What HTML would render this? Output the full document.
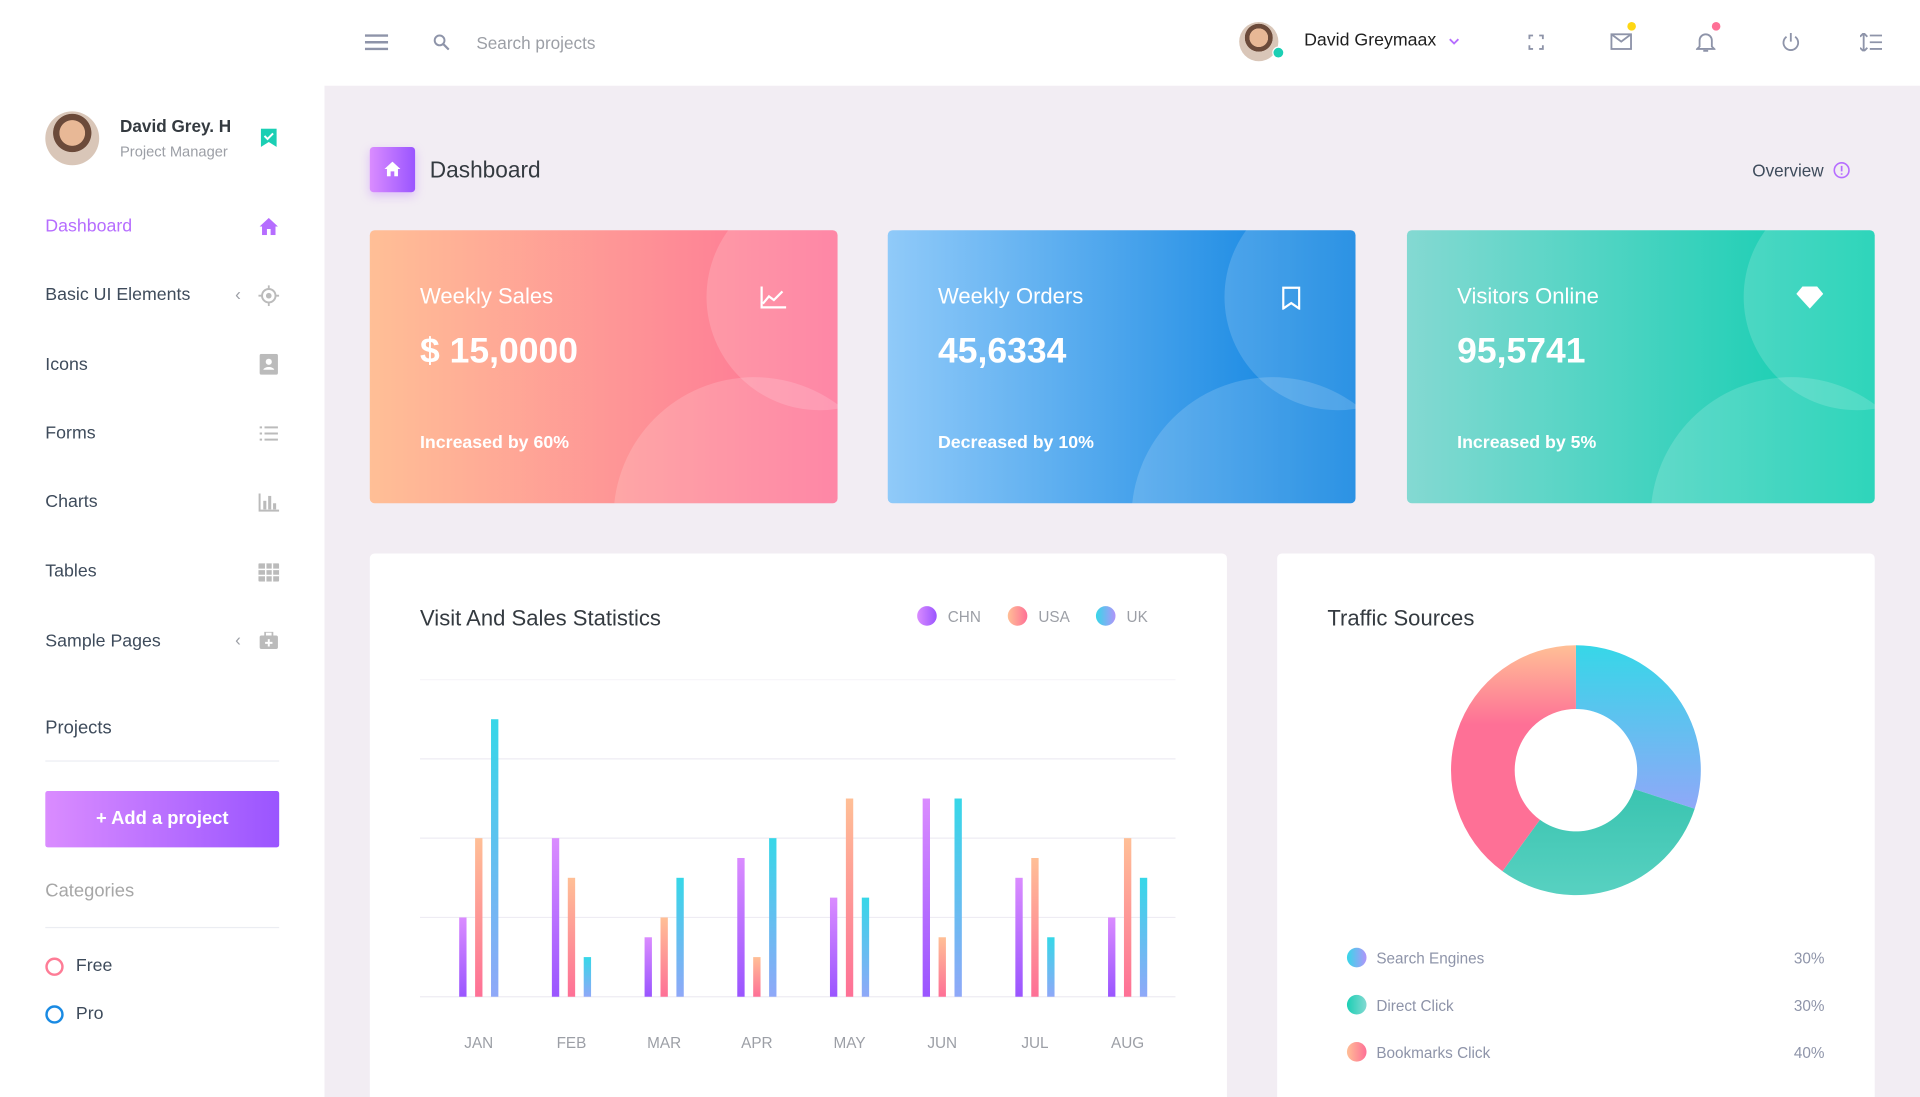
<!DOCTYPE html>
<html><head><meta charset="utf-8">
<style>
html,body{margin:0;padding:0;width:1920px;height:1097px;overflow:hidden;background:#f2edf3;font-family:"Liberation Sans",sans-serif;}
#wrap{position:absolute;left:0;top:0;width:1568px;height:895.9px;overflow:hidden;transform:scale(1.22449);transform-origin:0 0;background:#f2edf3;}
.a{position:absolute;}
.t{position:absolute;white-space:nowrap;line-height:1;}
.menu{font-size:14.5px;color:#3e4b5b;}
.card{position:absolute;top:188px;width:382px;height:223px;border-radius:4px;overflow:hidden;color:#fff;}
.card .c1{position:absolute;left:275px;top:-38px;width:185px;height:185px;border-radius:50%;background:rgba(255,255,255,0.16);}
.card .c2{position:absolute;left:199px;top:120px;width:230px;height:230px;border-radius:50%;background:rgba(255,255,255,0.16);}
.card .h{position:absolute;left:41px;top:44px;font-size:18px;}
.card .v{position:absolute;left:41px;top:83px;font-size:29px;font-weight:bold;}
.card .s{position:absolute;left:41px;top:166px;font-size:14.5px;font-weight:bold;}
.panel{position:absolute;background:#fff;border-radius:4px 4px 0 0;}
</style></head><body>
<div id="wrap">
<div class="a" style="left:0;top:0;width:265px;height:896px;background:#fff"></div>
<div class="a" style="left:0;top:0;width:1568px;height:70px;background:#fff"></div>

<div class="a" style="left:37px;top:91px;width:44px;height:44px;border-radius:50%;background:radial-gradient(circle at 50% 40%,#e8b896 0 30%,#6b4a3a 31% 45%,#d9c6b8 46%);"></div>
<div class="t" style="left:98px;top:96px;font-size:14px;font-weight:bold;color:#343a40">David Grey. H</div>
<div class="t" style="left:98px;top:118px;font-size:12px;color:#9c9fa6">Project Manager</div>
<svg class="a" style="left:213px;top:105px" width="13" height="15"><path d="M0 0h13v15l-6.5-4L0 15z" fill="#1bcfb4"/><path d="M3 6l2.5 2.5L10 4" stroke="#fff" stroke-width="1.6" fill="none"/></svg>

<div class="t menu" style="left:37px;top:178px;color:#b66dff">Dashboard</div>
<svg class="a" style="left:212px;top:178px" width="15" height="14"><path d="M7.5 0L0 7h2v7h4V9h3v5h4V7h2z" fill="#b66dff"/></svg>
<div class="t menu" style="left:37px;top:234px">Basic UI Elements</div>
<div class="t" style="left:192px;top:233px;font-size:14px;color:#9c9fa6">‹</div>
<svg class="a" style="left:211px;top:233px" width="17" height="17"><circle cx="8.5" cy="8.5" r="5.5" stroke="#bbb" stroke-width="1.6" fill="none"/><circle cx="8.5" cy="8.5" r="2.3" fill="#bbb"/><path d="M8.5 0v3M8.5 14v3M0 8.5h3M14 8.5h3" stroke="#bbb" stroke-width="1.5"/></svg>
<div class="t menu" style="left:37px;top:291px">Icons</div>
<svg class="a" style="left:212px;top:289px" width="15" height="17"><rect x="0" y="0" width="15" height="17" rx="1.5" fill="#bbb"/><circle cx="7.5" cy="6.5" r="2.5" fill="#fff"/><path d="M3 13c1-3 8-3 9 0z" fill="#fff"/></svg>
<div class="t menu" style="left:37px;top:347px">Forms</div>
<svg class="a" style="left:212px;top:348px" width="15" height="12"><path d="M0 1h2M4 1h11M0 6h2M4 6h11M0 11h2M4 11h11" stroke="#bbb" stroke-width="1.6"/></svg>
<div class="t menu" style="left:37px;top:403px">Charts</div>
<svg class="a" style="left:211px;top:403px" width="17" height="15"><path d="M1 0v14h16" stroke="#bbb" stroke-width="1.6" fill="none"/><rect x="4" y="6" width="2.5" height="7" fill="#bbb"/><rect x="8" y="2" width="2.5" height="11" fill="#bbb"/><rect x="12" y="8" width="2.5" height="5" fill="#bbb"/></svg>
<div class="t menu" style="left:37px;top:460px">Tables</div>
<svg class="a" style="left:211px;top:460px" width="17" height="15"><rect width="17" height="15" rx="1" fill="#bbb"/><path d="M0 5h17M0 10h17M6 0v15M11.5 0v15" stroke="#fff" stroke-width="1.2"/></svg>
<div class="t menu" style="left:37px;top:517px">Sample Pages</div>
<div class="t" style="left:192px;top:515px;font-size:14px;color:#9c9fa6">‹</div>
<svg class="a" style="left:212px;top:516px" width="15" height="14"><rect y="3" width="15" height="11" rx="1.5" fill="#bbb"/><rect x="4.5" y="0" width="6" height="4" fill="none" stroke="#bbb" stroke-width="1.4"/><path d="M7.5 6v6M4.5 9h6" stroke="#fff" stroke-width="1.6"/></svg>

<div class="t" style="left:37px;top:587px;font-size:15px;color:#3e4b5b">Projects</div>
<div class="a" style="left:37px;top:621px;width:191px;height:1px;background:#ebedf2"></div>
<div class="a" style="left:37px;top:646px;width:191px;height:46px;border-radius:2px;background:linear-gradient(to right,#da8cff,#9a55ff);color:#fff;font-size:15px;font-weight:bold;text-align:center;line-height:46px">+ Add a project</div>
<div class="t" style="left:37px;top:720px;font-size:15px;color:#a7a7a7">Categories</div>
<div class="a" style="left:37px;top:757px;width:191px;height:1px;background:#ebedf2"></div>
<div class="a" style="left:37px;top:782px;width:11px;height:11px;border-radius:50%;border:2px solid #fe7c96"></div>
<div class="t" style="left:62px;top:782px;font-size:14.5px;color:#3e4b5b">Free</div>
<div class="a" style="left:37px;top:821px;width:11px;height:11px;border-radius:50%;border:2px solid #198ae3"></div>
<div class="t" style="left:62px;top:821px;font-size:14.5px;color:#3e4b5b">Pro</div>

<svg class="a" style="left:298px;top:28px" width="19" height="13"><path d="M0 1h19M0 6.5h19M0 12h19" stroke="#8e94a9" stroke-width="2"/></svg>
<svg class="a" style="left:354px;top:28px" width="13" height="13"><circle cx="5" cy="5" r="4" stroke="#8e94a9" stroke-width="1.6" fill="none"/><path d="M8 8l4.5 4.5" stroke="#8e94a9" stroke-width="1.8"/></svg>
<div class="t" style="left:389px;top:28px;font-size:14px;color:#9c9fa6">Search projects</div>
<div class="a" style="left:1012px;top:18px;width:32px;height:32px;border-radius:50%;background:radial-gradient(circle at 50% 40%,#e8b896 0 30%,#6b4a3a 31% 45%,#d9c6b8 46%);"></div>
<div class="a" style="left:1039px;top:38px;width:8px;height:8px;border-radius:50%;background:#1bcfb4;border:1px solid #fff"></div>
<div class="t" style="left:1065px;top:26px;font-size:14.5px;color:#1f1f1f">David Greymaax</div>
<svg class="a" style="left:1183px;top:31px" width="9" height="6"><path d="M1 1l3.5 3.5L8 1" stroke="#b66dff" stroke-width="1.5" fill="none"/></svg>
<svg class="a" style="left:1248px;top:28px" width="13" height="13"><path d="M1 4V1h3M9 1h3v3M12 9v3H9M4 12H1V9" stroke="#8e94a9" stroke-width="1.5" fill="none"/></svg>
<svg class="a" style="left:1315px;top:27px" width="18" height="14"><rect x="1" y="1" width="16" height="12" stroke="#8e94a9" stroke-width="1.5" fill="none"/><path d="M1 1l8 6 8-6" stroke="#8e94a9" stroke-width="1.5" fill="none"/></svg>
<div class="a" style="left:1329px;top:18px;width:7px;height:7px;border-radius:50%;background:#fed713"></div>
<svg class="a" style="left:1385px;top:25px" width="16" height="18"><path d="M3 13V8a5 5 0 0110 0v5l2 2H1z" stroke="#8e94a9" stroke-width="1.5" fill="none"/><path d="M6 16.5h4" stroke="#8e94a9" stroke-width="1.5"/></svg>
<div class="a" style="left:1398px;top:18px;width:7px;height:7px;border-radius:50%;background:#fe7096"></div>
<svg class="a" style="left:1455px;top:26px" width="15" height="16"><path d="M4 4a6 6 0 107 0" stroke="#8e94a9" stroke-width="1.5" fill="none"/><path d="M7.5 1v7" stroke="#8e94a9" stroke-width="1.5"/></svg>
<svg class="a" style="left:1519px;top:27px" width="18" height="15"><path d="M3 0v15M0 3l3-3 3 3M0 12l3 3 3-3M8 2h10M8 7.5h10M8 13h10" stroke="#8e94a9" stroke-width="1.5" fill="none"/></svg>

<div class="a" style="left:302px;top:120px;width:37px;height:37px;border-radius:3px;background:linear-gradient(to right,#da8cff,#9a55ff);box-shadow:0 3px 8px rgba(182,109,255,0.35)"></div>
<svg class="a" style="left:314px;top:132px" width="13" height="12"><path d="M6.5 0L0 6h2v6h3V8h3v4h3V6h2z" fill="#fff"/></svg>
<div class="t" style="left:351px;top:130px;font-size:18.5px;color:#343a40">Dashboard</div>
<div class="t" style="left:1431px;top:132px;font-size:14px;color:#3e4b5b">Overview</div>
<svg class="a" style="left:1497px;top:132px" width="14" height="14"><circle cx="7" cy="7" r="6" stroke="#b66dff" stroke-width="1.3" fill="none"/><path d="M7 3.5v4.5M7 9.5v1.2" stroke="#b66dff" stroke-width="1.4"/></svg>

<div class="card" style="left:302px;background:linear-gradient(to right,#ffbf96,#fe7096)">
<div class="c1"></div><div class="c2"></div>
<div class="h">Weekly Sales</div>
<div class="v">$ 15,0000</div>
<div class="s">Increased by 60%</div>
<svg class="a" style="left:319px;top:46px" width="22" height="18"><path d="M1 0v17h20M2 14l5-6 4 3 7-7" stroke="#fff" stroke-width="1.8" fill="none"/></svg>
</div>
<div class="card" style="left:725px;background:linear-gradient(to right,#90caf9,#047edf)">
<div class="c1"></div><div class="c2"></div>
<div class="h">Weekly Orders</div>
<div class="v">45,6334</div>
<div class="s">Decreased by 10%</div>
<svg class="a" style="left:322px;top:46px" width="15" height="19"><path d="M1 1h13v17l-6.5-4.5L1 18z" stroke="#fff" stroke-width="1.8" fill="none"/></svg>
</div>
<div class="card" style="left:1149px;background:linear-gradient(to right,#84d9d2,#07cdae)">
<div class="c1"></div><div class="c2"></div>
<div class="h">Visitors Online</div>
<div class="v">95,5741</div>
<div class="s">Increased by 5%</div>
<svg class="a" style="left:318px;top:46px" width="22" height="18"><path d="M5 0h12l5 6-11 12L0 6z" fill="#fff"/></svg>
</div>

<div class="panel" style="left:302px;top:452px;width:700px;height:444px"></div>
<div class="t" style="left:343px;top:496px;font-size:18px;color:#343a40">Visit And Sales Statistics</div>
<svg class="a" id="barsvg" style="left:302px;top:452px" width="700" height="444">
<defs>
<linearGradient id="gP" x1="0" y1="0" x2="0" y2="1"><stop offset="0" stop-color="#da8cff"/><stop offset="1" stop-color="#9a55ff"/></linearGradient>
<linearGradient id="gR" x1="0" y1="0" x2="0" y2="1"><stop offset="0" stop-color="#ffbf96"/><stop offset="1" stop-color="#fe7096"/></linearGradient>
<linearGradient id="gB" x1="0" y1="0" x2="0" y2="1"><stop offset="0" stop-color="#36d7e8"/><stop offset="1" stop-color="#8fa8f8"/></linearGradient>
<linearGradient id="lP" x1="0" y1="0" x2="1" y2="0"><stop offset="0" stop-color="#da8cff"/><stop offset="1" stop-color="#9a55ff"/></linearGradient>
<linearGradient id="lR" x1="0" y1="0" x2="1" y2="0"><stop offset="0" stop-color="#ffbf96"/><stop offset="1" stop-color="#fe7096"/></linearGradient>
<linearGradient id="lB" x1="0" y1="0" x2="1" y2="0"><stop offset="0" stop-color="#36d7e8"/><stop offset="1" stop-color="#b194fa"/></linearGradient>
</defs>
</svg>

<div class="panel" style="left:1043px;top:452px;width:488px;height:444px"></div>
<div class="t" style="left:1084px;top:496px;font-size:18px;color:#343a40">Traffic Sources</div>
<svg class="a" id="donutsvg" style="left:1043px;top:452px" width="488" height="444">
<defs>
<linearGradient id="dB" x1="0" y1="0" x2="0" y2="1"><stop offset="0" stop-color="#36d7e8"/><stop offset="1" stop-color="#8fa8f8"/></linearGradient>
<linearGradient id="dG" x1="0" y1="0" x2="0" y2="1"><stop offset="0" stop-color="#3ac4b0"/><stop offset="1" stop-color="#58d1c1"/></linearGradient>
<linearGradient id="dR" x1="0" y1="0" x2="0" y2="1"><stop offset="0" stop-color="#ffbf96"/><stop offset="0.35" stop-color="#fe7096"/><stop offset="1" stop-color="#fe7096"/></linearGradient>
<linearGradient id="cB" x1="0" y1="0" x2="1" y2="0"><stop offset="0" stop-color="#36d7e8"/><stop offset="1" stop-color="#b194fa"/></linearGradient>
<linearGradient id="cG" x1="0" y1="0" x2="1" y2="0"><stop offset="0" stop-color="#1bcfb4"/><stop offset="1" stop-color="#84d9d2"/></linearGradient>
<linearGradient id="cR" x1="0" y1="0" x2="1" y2="0"><stop offset="0" stop-color="#ffbf96"/><stop offset="1" stop-color="#fe7096"/></linearGradient>
</defs>
</svg>
</div>

<script>
const months = ["JAN","FEB","MAR","APR","MAY","JUN","JUL","AUG"];
const chnValues = [10,20,7.5,17.5,12.5,25,15,10];
const usaValues = [20,15,10,5,25,7.5,17.5,20];
const ukValues = [35,5,15,20,12.5,25,7.5,15];
const yTicks = [0,10,20,30,40];
const seriesNames = ["CHN","USA","UK"];

const trafficLabels = ["Search Engines","Direct Click","Bookmarks Click"];
const trafficValues = [30,30,40];

const NS="http://www.w3.org/2000/svg";
function mk(p,tag,attrs){const e=document.createElementNS(NS,tag);for(const k in attrs)e.setAttribute(k,attrs[k]);p.appendChild(e);return e;}

const bs=document.getElementById('barsvg');
const plotL=41, plotR=658, base=362, top40=103, yMax=40;
const yS=v=>base-(v/yMax)*(base-top40);
const band=75.7;
const xC=i=>plotL+48+band*i;
yTicks.forEach(t=>{
  const l=mk(bs,'line',{x1:plotL,x2:plotR,y1:yS(t),y2:yS(t),stroke:t===yMax?'#f7f6f9':'#eeecf3','stroke-width':1});
  
  
});
const series=[chnValues,usaValues,ukValues], fills=['url(#gP)','url(#gR)','url(#gB)'];
months.forEach((m,i)=>{
  series.forEach((arr,s)=>{
    const x=xC(i)+(s-1)*13-3;
    const r=mk(bs,'rect',{x:x,y:yS(arr[i]),width:6,height:base-yS(arr[i]),fill:fills[s]});
    
    
  });
  const tx=mk(bs,'text',{x:xC(i),y:404,'text-anchor':'middle','font-size':12.5,fill:'#9c9fa6','font-family':'Liberation Sans, sans-serif'});
  tx.textContent=m;
  
  
});
const legX=[455,529,601], legF=['url(#lP)','url(#lR)','url(#lB)'];
seriesNames.forEach((n,i)=>{
  const c=mk(bs,'circle',{cx:legX[i],cy:51,r:8,fill:legF[i]});
  
  
  const t=mk(bs,'text',{x:legX[i]+17,y:56,'font-size':12.5,fill:'#9c9fa6','font-family':'Liberation Sans, sans-serif'});
  t.textContent=n;
  
  
});

const ds=document.getElementById('donutsvg');
const cx=244, cy=177, R=102, r0=50;
const total=trafficValues.reduce((a,b)=>a+b,0);
const segF=['url(#dB)','url(#dG)','url(#dR)'], dotF=['url(#cB)','url(#cG)','url(#cR)'];
let acc=0;
trafficValues.forEach((v,i)=>{
  const a0=acc/total*2*Math.PI, a1=(acc+v)/total*2*Math.PI; acc+=v;
  const P=(a,rr)=>[cx+rr*Math.sin(a),cy-rr*Math.cos(a)];
  const [x0,y0]=P(a0,R),[x1,y1]=P(a1,R),[x2,y2]=P(a1,r0),[x3,y3]=P(a0,r0);
  const lg=(a1-a0)>Math.PI?1:0;
  const p=mk(ds,'path',{d:`M${x0},${y0}A${R},${R} 0 ${lg} 1 ${x1},${y1}L${x2},${y2}A${r0},${r0} 0 ${lg} 0 ${x3},${y3}Z`,fill:segF[i]});
  
  
  const yy=330+i*38.5;
  const d=mk(ds,'circle',{cx:65,cy:yy,r:8,fill:dotF[i]});
  
  
  const t=mk(ds,'text',{x:81,y:yy+5,'font-size':12.5,fill:'#8e94a9','font-family':'Liberation Sans, sans-serif'});
  t.textContent=trafficLabels[i];
  
  
  const pc=mk(ds,'text',{x:447,y:yy+5,'text-anchor':'end','font-size':12.5,fill:'#8e94a9','font-family':'Liberation Sans, sans-serif'});
  pc.textContent=v+'%';
  
  
});
</script>
</body></html>
